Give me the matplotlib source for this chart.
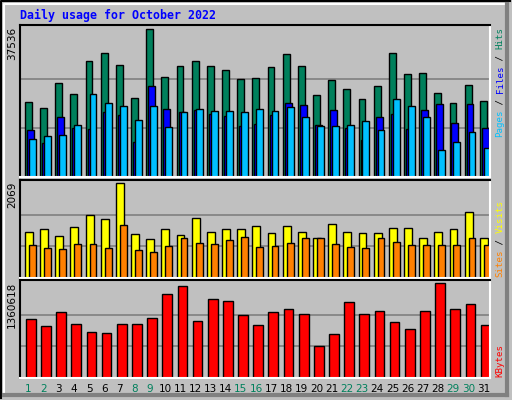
import matplotlib
matplotlib.use("Agg")
import matplotlib.pyplot as plt
import numpy as np

days = list(range(1, 32))
weekend_days = [1, 2, 8, 9, 15, 16, 22, 23, 29, 30]
max_hits = 37536
max_visits = 2069
max_kbytes = 1360618

hits = [19150, 17620, 24000, 21190, 29620, 31660, 28600, 20170, 37536, 25535, 28340, 29620, 28340, 27320, 25020, 25280,
        28090, 31410, 28340, 20940, 24770, 22470, 19920, 23240, 31660, 26300, 26560, 21450, 18900, 23490, 19410]
files = [12000, 8680, 15320, 12510, 12260, 16600, 15830, 8940, 23240, 17360, 16600, 17110, 16090, 15580, 13020, 13530,
         15830, 18900, 18390, 13280, 17110, 12510, 9450, 15320, 16090, 12260, 17110, 18640, 13790, 18640, 12510]
pages = [9700, 10470, 10720, 13280, 21190, 18900, 18130, 14550, 18130, 12770, 16600, 17360, 16850, 16850, 16600, 17360,
         16850, 17870, 15320, 13020, 13020, 13280, 14300, 12000, 19920, 18130, 15320, 6890, 8940, 11490, 7410]
visits = [990, 1060, 905, 1105, 1375, 1285, 2069, 950, 840, 1060, 925, 1310, 990, 1060, 1060, 1125,
          970, 1125, 990, 860, 1170, 990, 970, 970, 1080, 1080, 880, 990, 1060, 1442, 880]
sites = [725, 660, 635, 745, 745, 660, 1150, 615, 570, 705, 860, 770, 745, 835, 900, 680,
         705, 770, 860, 880, 745, 680, 660, 880, 790, 725, 725, 725, 725, 860, 725]
kbytes = [837000, 747000, 942000, 777000, 658000, 643000, 777000, 777000, 852000, 1196000, 1316000, 822000, 1136000, 1106000, 897000, 762000,
          942000, 987000, 912000, 463000, 628000, 1091000, 912000, 957000, 807000, 702000, 957000, 1360618, 987000, 1061000, 762000]

BG = "#C0C0C0"
fig = plt.figure(figsize=(5.12, 4.0), dpi=100, facecolor=BG)
W, H = 512, 400
MONO = "DejaVu Sans Mono"

def ax_at(x0, y0, x1, y1):
    return fig.add_axes([x0 / W, 1 - y1 / H, (x1 - x0) / W, (y1 - y0) / H])

def style(ax, top):
    ax.set_facecolor(BG)
    ax.set_xlim(0, 31)
    ax.set_ylim(0, top * 1.03)
    ax.set_xticks([]); ax.set_yticks([])
    for g in (top / 3, 2 * top / 3):
        ax.axhline(g, color="#808080", lw=1.2, zorder=0)
    ax.spines["left"].set_color("black"); ax.spines["top"].set_color("black")
    ax.spines["right"].set_color("white"); ax.spines["bottom"].set_color("white")
    for s in ax.spines.values():
        s.set_linewidth(1.5)

x = np.arange(31)
ek = dict(edgecolor="black", linewidth=1.0, align="edge")

a1 = ax_at(20, 25, 490, 177)
style(a1, max_hits)
a1.bar(x + 0.33, hits, width=0.45, color="#00805C", **ek)
a1.bar(x + 0.46, files, width=0.45, color="#0000FF", **ek)
a1.bar(x + 0.59, pages, width=0.45, color="#00C0FF", **ek)

a2 = ax_at(20, 180, 490, 278)
style(a2, max_visits)
a2.bar(x + 0.33, visits, width=0.52, color="#FFFF00", **ek)
a2.bar(x + 0.59, sites, width=0.45, color="#FF8000", **ek)

a3 = ax_at(20, 280, 490, 378)
style(a3, max_kbytes)
a3.bar(x + 0.39, kbytes, width=0.64, color="#FF0000", **ek)

for d in days:
    col = "#00805C" if d in weekend_days else "black"
    fig.text((20 + (d - 0.5) * 470 / 31 + 1) / W, 1 - 389 / H, str(d), color=col,
             ha="center", va="center", fontsize=7.5)

for val, ytop in ((max_hits, 27), (max_visits, 182), (max_kbytes, 282)):
    fig.text(7 / W, 1 - ytop / H, str(val), rotation=90, ha="left", va="top", fontsize=7.5)

fig.text(20 / W, 1 - 15 / H, "Daily usage for October 2022", color="#0000FF",
         fontsize=8.4, fontweight="bold", family=MONO, va="center", ha="left")

CH = 5.5
def vlabel(pieces, ybottom):
    y = ybottom
    for txt, col in pieces:
        fig.text(500 / W, 1 - y / H, txt, color=col, rotation=90, family=MONO,
                 fontsize=6.6, ha="center", va="bottom")
        y -= CH * len(txt)

vlabel([("Pages", "#00C0FF"), (" / ", "black"), ("Files", "#0000FF"), (" / ", "black"), ("Hits", "#00805C")], 137)
vlabel([("Sites", "#FF8000"), (" / ", "black"), ("Visits", "#FFFF00")], 277)
vlabel([("KBytes", "#FF0000")], 377)

# bevelled outer frame
frame = fig.add_axes([0, 0, 1, 1], facecolor="none")
frame.set_xlim(0, W); frame.set_ylim(H, 0); frame.axis("off")
frame.plot([1, 1, W - 2], [H - 2, 1, 1], color="black", lw=1.5)
frame.plot([4, 4, W - 6], [H - 6, 4, 4], color="white", lw=1.5)
frame.plot([W - 5, W - 5], [4, H - 5], color="#808080", lw=3)
frame.plot([4, W - 5], [H - 5, H - 5], color="#808080", lw=3)

fig.savefig("out.png", dpi=100, facecolor=BG)
